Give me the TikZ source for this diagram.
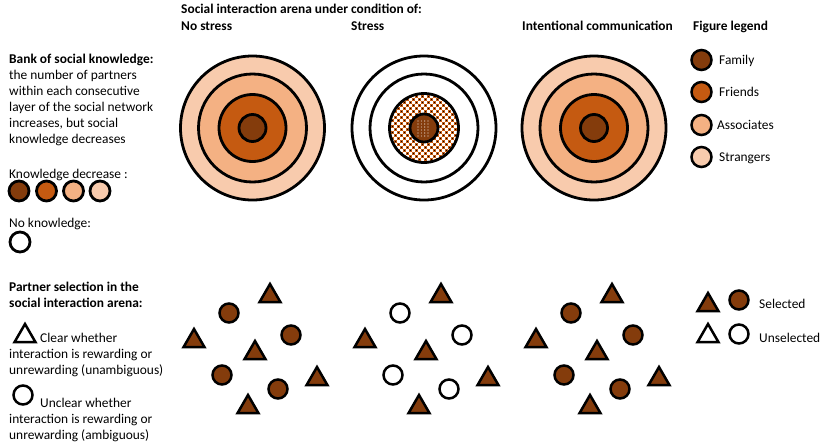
\documentclass[tikz,border=0pt]{standalone}
\usepackage{fontspec}
\setmainfont{Carlito}
\usetikzlibrary{shapes.geometric}
\definecolor{family}{HTML}{843C0C}
\definecolor{friends}{HTML}{C55A11}
\definecolor{assoc}{HTML}{F4B183}
\definecolor{strangers}{HTML}{F8CBAD}
\begin{document}
\begin{tikzpicture}[x=1pt,y=-1pt,
  lbl/.style={anchor=base west, inner sep=0pt, font=\fontsize{13.4}{15.9}\selectfont},
  hdr/.style={anchor=base west, inner sep=0pt, font=\bfseries\fontsize{13.4}{15.9}\selectfont},
  para/.style={lbl, align=left},
  dot/.style={circle, draw=black, line width=2.5pt, minimum size=19pt, inner sep=0pt},
  kdot/.style={circle, draw=black, line width=2.8pt, minimum size=20pt, inner sep=0pt},
  tri/.style={regular polygon, regular polygon sides=3, draw=black, line width=2.5pt, minimum size=24pt, inner sep=0pt},
  sel/.style={fill=family},
  unsel/.style={fill=white},
  ring/.style={draw=black, line width=2.8pt}]
\useasboundingbox (0,0) rectangle (829,447);

% headings
\node[hdr] (title) at (181,13) {Social interaction arena under condition of:};
\node[hdr] (hns) at (181,30) {No stress};
\node[hdr] (hst) at (351,30) {Stress};
\node[hdr] (hic) at (522,30) {Intentional communication};
\node[hdr] (hlg) at (693,30) {Figure legend};

% left text (base anchor = last line baseline)
\node[para] (bank) at (9,143) {\textbf{Bank of social knowledge:}\\the number of partners\\within each consecutive\\layer of the social network\\increases, but social\\knowledge decreases};
\node[lbl] (kdec) at (9,178) {Knowledge decrease :};
\node[kdot, fill=family] (k1) at (19,191) {};
\node[kdot, fill=friends] (k2) at (46.5,191) {};
\node[kdot, fill=assoc] (k3) at (73.5,191) {};
\node[kdot, fill=strangers] (k4) at (100,191) {};
\node[lbl] (nokn) at (9,227) {No knowledge:};
\node[kdot, fill=white] (k0) at (20,242) {};

\node[para, font=\bfseries\fontsize{13.4}{15.5}\selectfont] (psel) at (9,307) {Partner selection in the\\social interaction arena:};
\node[tri, unsel] (ltri) at (25,336) {};
\node[lbl] (clear) at (40,342) {Clear whether};
\node[para] (clear2) at (9,374) {interaction is rewarding or\\unrewarding (unambiguous)};
\node[dot, unsel] (lcirc) at (23,395) {};
\node[lbl] (unclear) at (40,407) {Unclear whether};
\node[para] (unclear2) at (9,439) {interaction is rewarding or\\unrewarding (ambiguous)};

% concentric circles: no stress
\draw[ring, fill=strangers] (252.5,128) circle (72pt);
\draw[ring, fill=assoc] (252.5,128) circle (54pt);
\draw[ring, fill=friends] (252.5,128) circle (33.5pt);
\draw[ring, fill=family] (252.5,128) circle (13.5pt);

% intentional communication
\draw[ring, fill=strangers] (594,128) circle (72pt);
\draw[ring, fill=assoc] (594,128) circle (54pt);
\draw[ring, fill=friends] (594,128) circle (33.5pt);
\draw[ring, fill=family] (594,128) circle (13.5pt);

% stress
\draw[ring, fill=white] (424,128) circle (72pt);
\draw[ring, fill=white] (424,128) circle (54pt);
\begin{scope}
  \clip (424,128) circle (34.5pt);
  \fill[white] (424,128) circle (35pt);
  \foreach \i in {-12,...,11}{
    \foreach \j in {-12,...,11}{
      \pgfmathtruncatemacro{\parity}{mod(\i+\j+24,2)}
      \ifnum\parity=0
        \fill[friends] ({424+3*\i},{128+3*\j}) rectangle ++(3,3);
        \fill[family] ({424+3*\i+1},{128+3*\j+1}) rectangle ++(1,1);
      \fi
    }
  }
\end{scope}
\draw[ring] (424,128) circle (34.5pt);
\draw[ring, fill=family] (424,128) circle (14pt);
\foreach \x in {418,421.3,424.7,428}{
  \foreach \y in {121,124,127,130,133,136}{
    \fill[white!85!family] (\x,\y) circle (0.55pt);
  }
}

% legend
\node[dot, fill=family, minimum size=20pt] (lfam) at (701.5,60) {};
\node[lbl] (tfam) at (719,64) {Family};
\node[dot, fill=friends, minimum size=20pt] (lfri) at (701.5,92) {};
\node[lbl] (tfri) at (719,96) {Friends};
\node[dot, fill=assoc, minimum size=20pt] (lass) at (701.5,125) {};
\node[lbl] (tass) at (717,129) {Associates};
\node[dot, fill=strangers, minimum size=20pt] (lstr) at (701.5,157) {};
\node[lbl] (tstr) at (719,161) {Strangers};

\node[tri, sel] (lgt1) at (708,305) {};
\node[dot, sel] (lgc1) at (739,300) {};
\node[lbl] (tsel) at (759,308) {Selected};
\node[tri, unsel] (lgt2) at (708,336) {};
\node[dot, unsel] (lgc2) at (739,334) {};
\node[lbl] (tuns) at (759,342) {Unselected};

% partner groups
\foreach \dx/\g/\cs in {0/a/sel, 171/b/unsel, 342/c/sel}{
  \node[tri, sel] (\g t1) at ({270+\dx},296) {};
  \node[tri, sel] (\g t2) at ({194+\dx},341) {};
  \node[tri, sel] (\g t3) at ({255+\dx},353) {};
  \node[tri, sel] (\g t4) at ({317+\dx},379) {};
  \node[tri, sel] (\g t5) at ({248+\dx},407) {};
  \node[dot, \cs] (\g c1) at ({229+\dx},313) {};
  \node[dot, \cs] (\g c2) at ({291+\dx},335) {};
  \node[dot, \cs] (\g c3) at ({222+\dx},375) {};
  \node[dot, \cs] (\g c4) at ({278+\dx},389) {};
}
\end{tikzpicture}
\end{document}
